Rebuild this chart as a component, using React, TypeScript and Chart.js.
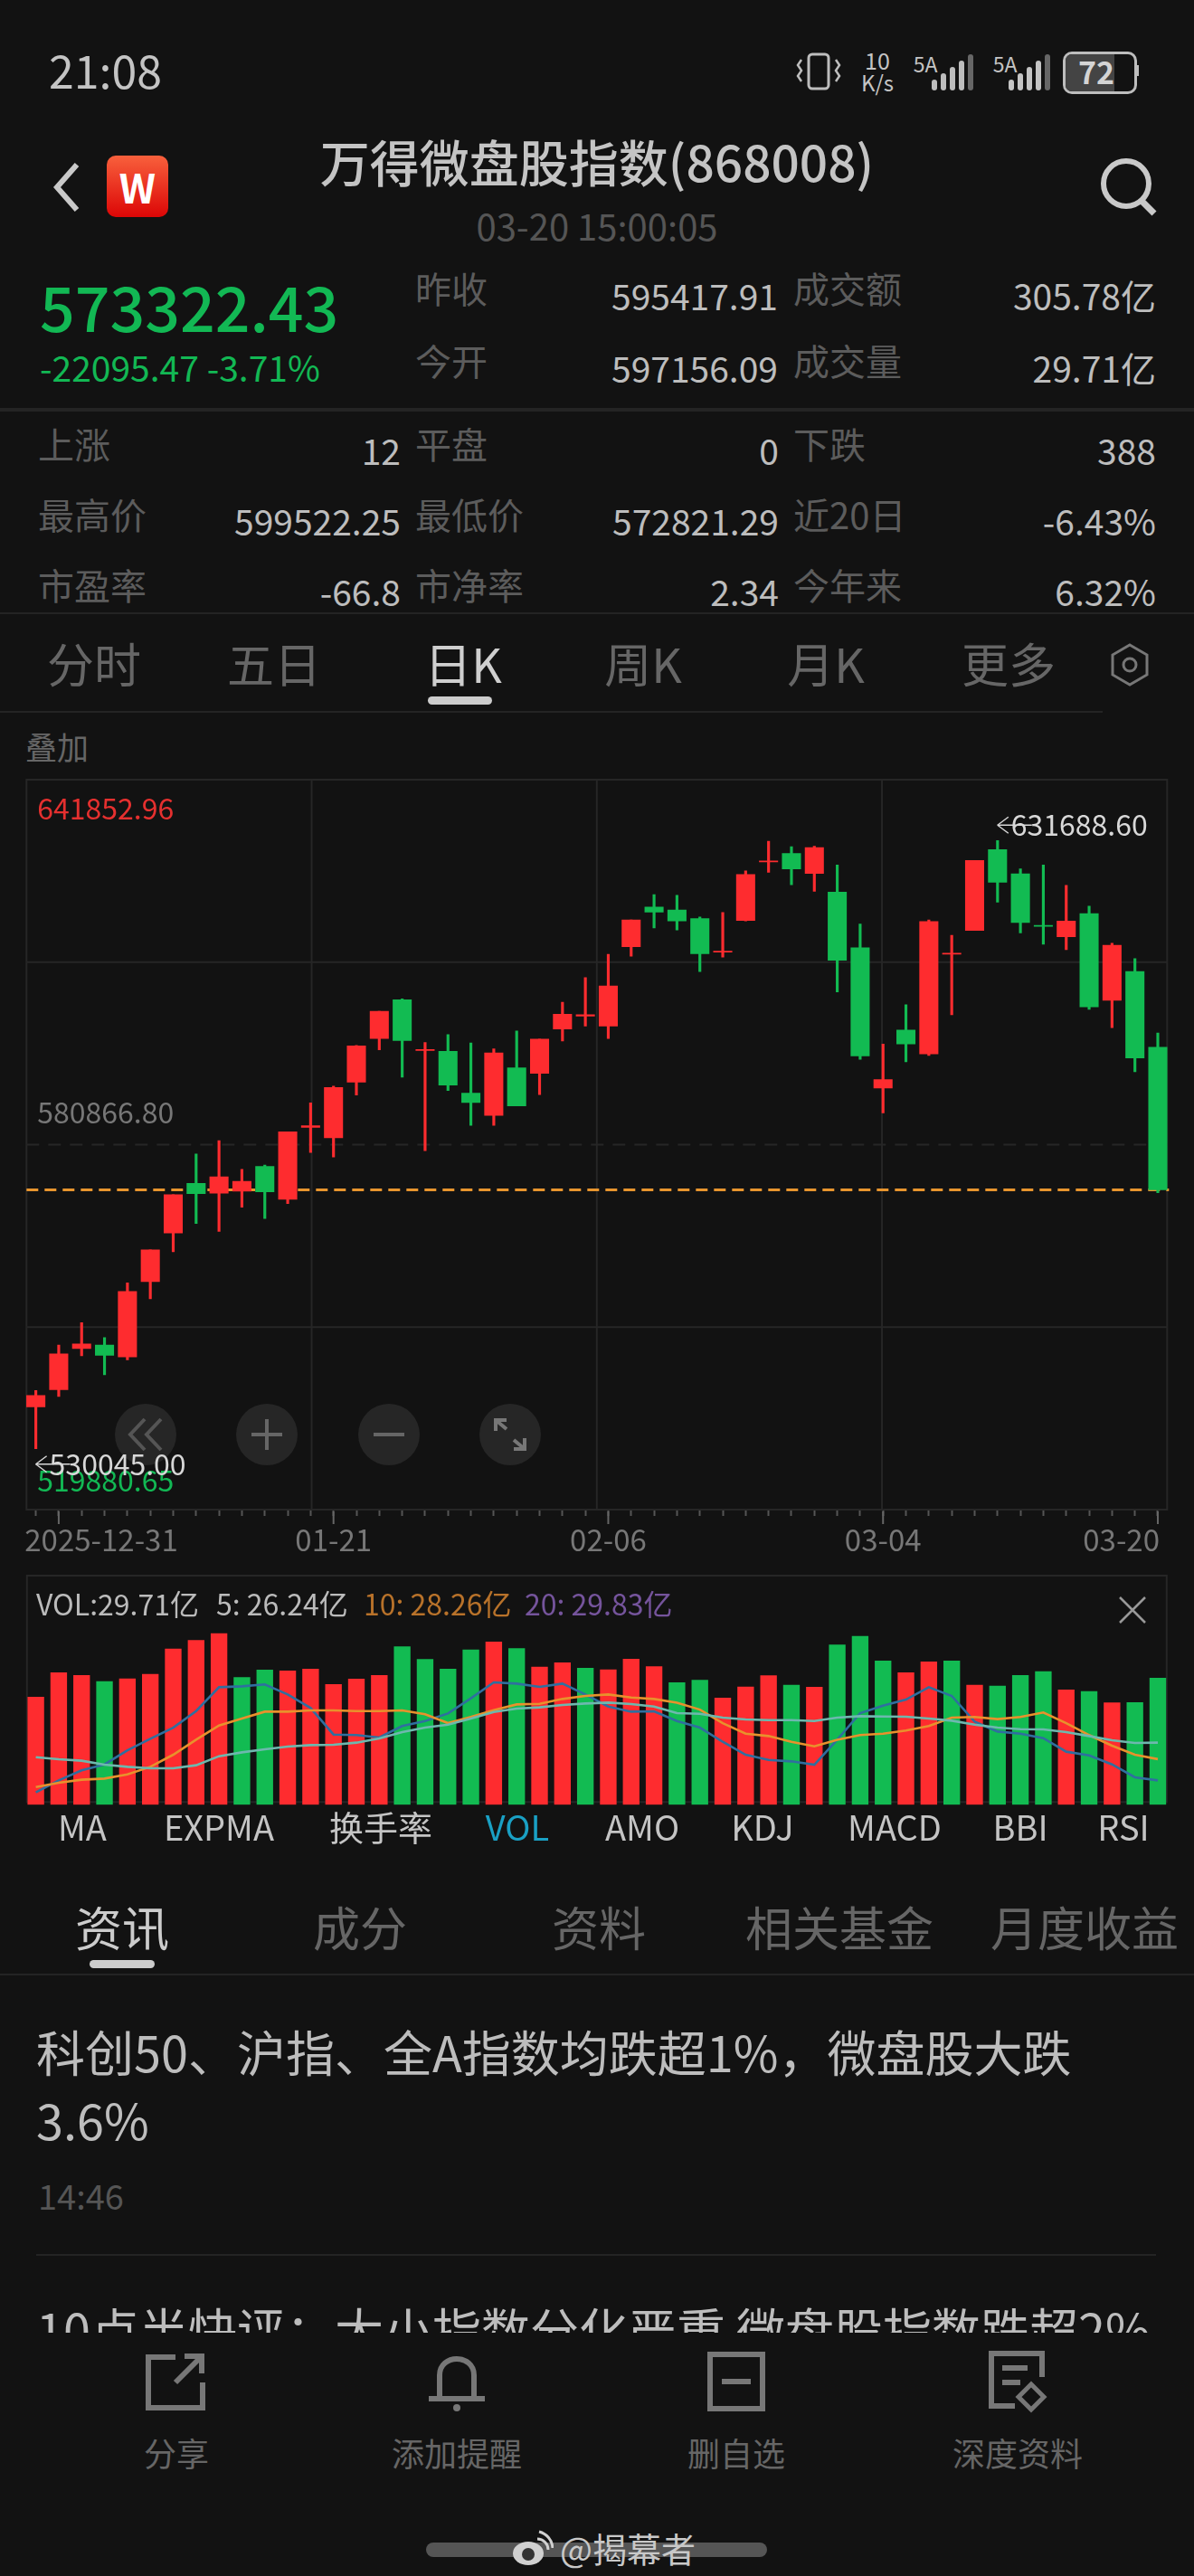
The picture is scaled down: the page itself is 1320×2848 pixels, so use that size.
import React, { useEffect, useRef } from "react";
import { Chart, registerables } from "chart.js";

Chart.register(...registerables);

const FONT = '"Noto Sans CJK SC", "Noto Sans", sans-serif';
const BG = "#121212";
const RED = "#fe2c2f";
const GREEN = "#12bb52";

// trading days, one per candle
const categories = [
  "2025-12-30", "2025-12-31", "01-06", "01-07", "01-08", "01-09", "01-12", "01-13", "01-14", "01-15",
  "01-16", "01-19", "01-20", "01-21", "01-22", "01-23", "01-26", "01-27", "01-28", "01-29",
  "01-30", "02-02", "02-03", "02-04", "02-05", "02-06", "02-09", "02-10", "02-11", "02-12",
  "02-13", "02-24", "02-25", "02-26", "02-27", "03-02", "03-03", "03-04", "03-05", "03-06",
  "03-09", "03-10", "03-11", "03-12", "03-13", "03-16", "03-17", "03-18", "03-19", "03-20",
];
const dateLabels = ["2025-12-31", "01-21", "02-06", "03-04", "03-20"];

const opens = [
  537035, 539935, 546812, 547392, 545404, 557998, 566119, 574405, 572747, 573079,
  577222, 571753, 583768, 582028, 591308, 598600, 605063, 596611, 596445, 589485,
  585756, 593711, 592799, 600174, 602328, 600671, 613929, 620558, 620060, 618652,
  613017, 618320, 628098, 629506, 626192, 623043, 613763, 590314, 600008, 596031,
  612686, 616663, 630169, 626109, 617492, 615586, 619480, 604980, 609786, 597156.09,
];
const closes = [
  538940, 545901, 547558, 545652, 556341, 563301, 572499, 572664, 575482, 574736,
  572996, 583022, 584016, 590397, 597357, 603157, 598268, 596777, 590811, 587911,
  596197, 587331, 598517, 602660, 602577, 607383, 618403, 619729, 618237, 612769,
  613183, 626026, 628264, 626938, 630501, 611692, 595700, 591722, 597688, 618155,
  612852, 628346, 624701, 617989, 617326, 618237, 603903, 614177, 595368, 573322.43,
];
const highs = [
  539769, 547392, 551121, 548635, 557750, 563301, 572499, 579293, 581531, 576725,
  577470, 583022, 587828, 590645, 597440, 603157, 605228, 597937, 599263, 597854,
  596860, 599843, 598517, 604648, 608791, 612686, 618403, 622629, 622546, 618900,
  619646, 626606, 631578, 630666, 630749, 627601, 617740, 597688, 604234, 618403,
  615835, 628346, 631688.6, 626938, 627601, 624203, 620723, 614509, 611940, 599522.25,
];
const lows = [
  530045, 538775, 545569, 542421, 544906, 555098, 562970, 567693, 566367, 570427,
  568521, 571007, 579542, 578796, 589154, 596694, 592137, 579873, 589899, 584099,
  584099, 587331, 589236, 598185, 600671, 598600, 612354, 617077, 616746, 609786,
  612189, 618237, 626358, 624286, 623209, 606389, 595120, 586171, 594705, 595782,
  602577, 616663, 621386, 616249, 614343, 613432, 603488, 600423, 593048, 572821.29,
];
const priceTicks = [641852.96, 611359.88, 580866.8, 550373.73, 519880.65];
const priceTickColors = ["#e5302f", "", "#777777", "", "#12b854"];
const lastPrice = 573322.43;

// volume in 亿
const volumes = [
  25.25, 30.98, 30.35, 28.93, 29.57, 30.63, 36.57, 38.55, 40.18, 29.85,
  31.62, 31.41, 31.83, 28.23, 29.5, 30.35, 37.07, 34.1, 31.83, 36.36,
  38.2, 36.64, 32.33, 33.32, 32.04, 31.69, 34.17, 32.4, 28.65, 29.22,
  25.04, 27.66, 30.28, 28.08, 27.59, 37.49, 39.54, 33.74, 30.98, 33.53,
  33.74, 28.08, 27.87, 30.35, 31.27, 26.95, 26.6, 23.91, 23.98, 29.71,
];
const ma5 = [
  25.09, 26.24, 27.19, 27.76, 29.11, 30.2, 31.26, 32.84, 35.11, 35.19,
  35.37, 34.42, 33.13, 30.6, 30.55, 30.32, 31.41, 31.89, 32.61, 34.05,
  35.57, 35.45, 35.14, 35.45, 34.42, 33.27, 32.78, 32.81, 31.89, 31.26,
  29.91, 28.68, 28.19, 28.05, 27.73, 30.11, 32.64, 33.36, 33.93, 35.11,
  34.28, 31.84, 30.89, 30.69, 30.26, 28.97, 28.62, 27.76, 26.53, 26.24,
];
const ma10 = [
  25.61, 26.01, 26.3, 26.41, 26.81, 27.53, 28.68, 30.11, 31.46, 32.12,
  32.78, 32.78, 32.9, 32.9, 32.84, 32.84, 32.9, 32.53, 31.69, 32.27,
  32.93, 33.47, 33.53, 33.99, 34.28, 34.42, 34.13, 33.99, 33.64, 32.98,
  31.69, 30.69, 30.46, 29.91, 29.48, 30.11, 30.55, 30.69, 30.98, 31.41,
  32.21, 32.27, 32.07, 32.27, 32.7, 31.69, 30.55, 29.54, 28.68, 28.26,
];
const ma20 = [
  28.45, 28.25, 28.11, 27.73, 27.53, 27.39, 27.39, 27.68, 28.54, 28.91,
  29.2, 29.45, 29.6, 29.63, 29.83, 30.23, 30.83, 31.26, 31.55, 32.12,
  32.75, 33.07, 33.19, 33.42, 33.56, 33.64, 33.5, 33.27, 32.64, 32.58,
  32.21, 32.04, 31.98, 31.98, 31.89, 32.21, 32.35, 32.32, 32.3, 32.12,
  31.92, 31.55, 31.26, 31.12, 31.09, 30.83, 30.46, 30.06, 29.8, 29.83,
];

const indicatorTabs = ["MA", "EXPMA", "换手率", "VOL", "AMO", "KDJ", "MACD", "BBI", "RSI"];
const indicatorX = [91, 242, 421, 572, 710, 843, 989, 1128, 1242];
const periodTabs = ["分时", "五日", "日K", "周K", "月K", "更多"];
const periodX = [104, 303, 512, 711, 913, 1115];
const newsTabs = ["资讯", "成分", "资料", "相关基金", "月度收益"];
const newsX = [135, 398, 662, 928, 1199];

const candleColors = opens.map((o, i) => (closes[i] >= o ? RED : GREEN));
const volumeColors = closes.map((c, i) => (i === 0 || c >= closes[i - 1] ? RED : GREEN));

function frameOf(chart: any, half: number) {
  const x = chart.scales.x;
  return {
    left: x.getPixelForValue(0) - half,
    right: x.getPixelForValue(categories.length - 1) + half,
    top: chart.chartArea.top,
    bottom: chart.chartArea.bottom,
  };
}

function line(ctx: CanvasRenderingContext2D, x1: number, y1: number, x2: number, y2: number) {
  ctx.beginPath();
  ctx.moveTo(x1, y1);
  ctx.lineTo(x2, y2);
  ctx.stroke();
}

// frame, quarter grid and the last-price line sit under the candles
const priceBackdrop = {
  id: "priceBackdrop",
  beforeDatasetsDraw(chart: any) {
    const { ctx } = chart;
    const y = chart.scales.y;
    const f = frameOf(chart, 10.3);
    ctx.save();
    ctx.strokeStyle = "#262626";
    ctx.lineWidth = 2;
    ctx.strokeRect(f.left, f.top, f.right - f.left, f.bottom - f.top);
    for (let i = 1; i < 4; i++) {
      const gx = f.left + ((f.right - f.left) * i) / 4;
      line(ctx, gx, f.top, gx, f.bottom);
    }
    priceTicks.forEach((t, i) => {
      if (i === 0 || i === 4) return;
      ctx.setLineDash(i === 2 ? [14, 10] : []);
      const py = y.getPixelForValue(t);
      line(ctx, f.left, py, f.right, py);
    });
    ctx.strokeStyle = "#e8952e";
    ctx.lineWidth = 3;
    ctx.setLineDash([13, 7]);
    const lp = y.getPixelForValue(lastPrice);
    line(ctx, f.left, lp, f.right + 2, lp);
    ctx.restore();
  },
};

function extreme(ctx: CanvasRenderingContext2D, x: number, y: number, value: number) {
  ctx.strokeStyle = "#d8d8d8";
  ctx.lineWidth = 1.5;
  line(ctx, x, y, x + 38, y);
  line(ctx, x, y, x + 12, y - 9);
  line(ctx, x, y, x + 12, y + 9);
  ctx.fillStyle = "#d8d8d8";
  ctx.textAlign = "left";
  ctx.fillText(value.toFixed(2), x + 15, y);
}

const priceLabels = {
  id: "priceLabels",
  afterDatasetsDraw(chart: any) {
    const { ctx } = chart;
    const xs = chart.scales.x;
    const y = chart.scales.y;
    const f = frameOf(chart, 10.3);
    ctx.save();
    ctx.font = `32px ${FONT}`;
    ctx.textBaseline = "middle";
    ctx.textAlign = "left";
    // axis values: top, middle and bottom only
    const offsets = [32, 0, -36, 0, -32];
    priceTicks.forEach((t, i) => {
      if (!priceTickColors[i]) return;
      ctx.fillStyle = priceTickColors[i];
      ctx.fillText(t.toFixed(2), f.left + 12, y.getPixelForValue(t) + offsets[i]);
    });
    const hi = highs.indexOf(Math.max(...highs));
    const lo = lows.indexOf(Math.min(...lows));
    extreme(ctx, xs.getPixelForValue(hi), y.getPixelForValue(highs[hi]) - 17, highs[hi]);
    extreme(ctx, xs.getPixelForValue(lo), y.getPixelForValue(lows[lo]) + 17, lows[lo]);
    // date ticks
    ctx.fillStyle = "#777777";
    ctx.strokeStyle = "#666666";
    ctx.lineWidth = 2;
    ctx.font = `33px ${FONT}`;
    dateLabels.forEach((d, i) => {
      const px = xs.getPixelForValue(categories.indexOf(d));
      line(ctx, px, f.bottom + 2, px, f.bottom + 16);
      if (i === 0) {
        ctx.textAlign = "left";
        ctx.fillText(d, f.left - 2, f.bottom + 33);
      } else if (i === dateLabels.length - 1) {
        ctx.textAlign = "right";
        ctx.fillText(d, px + 2, f.bottom + 33);
      } else {
        ctx.textAlign = "center";
        ctx.fillText(d, px, f.bottom + 33);
      }
    });
    ctx.restore();
  },
};

const volumeFrame = {
  id: "volumeFrame",
  beforeDatasetsDraw(chart: any) {
    const { ctx } = chart;
    const f = frameOf(chart, 9.8);
    ctx.save();
    ctx.strokeStyle = "#262626";
    ctx.lineWidth = 2;
    ctx.strokeRect(f.left, f.top, f.right - f.left, f.bottom - f.top - 3);
    ctx.restore();
  },
};

function PriceChart() {
  const ref = useRef<HTMLCanvasElement>(null);
  useEffect(() => {
    const chart = new Chart(ref.current!, {
      type: "bar",
      data: {
        labels: categories,
        datasets: [
          {
            label: "wick",
            data: lows.map((l, i) => [l, highs[i]]),
            backgroundColor: candleColors,
            barThickness: 2.5,
            grouped: false,
            order: 2,
          },
          {
            label: "body",
            data: opens.map((o, i) => [o, closes[i]]),
            backgroundColor: candleColors,
            barThickness: 20.4,
            minBarLength: 1,
            grouped: false,
            order: 1,
          },
        ] as any,
      },
      options: {
        responsive: false,
        animation: false,
        events: [],
        layout: { padding: { left: 26.95, right: 27.35, top: 12, bottom: 54 } },
        plugins: { legend: { display: false }, tooltip: { enabled: false } },
        scales: {
          x: {
            offset: true,
            ticks: { display: false, autoSkip: false },
            border: { display: false },
            grid: {
              offset: false,
              drawOnChartArea: false,
              drawTicks: true,
              tickLength: 7,
              tickWidth: 2,
              tickColor: "#555555",
            },
          },
          y: { display: false, min: priceTicks[4], max: priceTicks[0] },
        },
      },
      plugins: [priceBackdrop, priceLabels],
    });
    return () => chart.destroy();
  }, []);
  return (
    <canvas
      ref={ref}
      width={1320}
      height={880}
      style={{ position: "absolute", left: 0, top: 850, width: 1320, height: 880 }}
    />
  );
}

function VolumeChart() {
  const ref = useRef<HTMLCanvasElement>(null);
  useEffect(() => {
    const maLine = (label: string, data: number[], color: string) => ({
      type: "line",
      label,
      data,
      yAxisID: "ma",
      borderColor: color,
      borderWidth: 2.6,
      pointRadius: 0,
      tension: 0,
    });
    const chart = new Chart(ref.current!, {
      type: "bar",
      data: {
        labels: categories,
        datasets: [
          maLine("20", ma20, "#6db8ae"),
          maLine("10", ma10, "#e8912c"),
          maLine("5", ma5, "#2f6f9f"),
          {
            type: "bar",
            label: "VOL",
            data: volumes,
            yAxisID: "vol",
            backgroundColor: volumeColors,
            barThickness: 17.7,
            order: 10,
          },
        ] as any,
      },
      options: {
        responsive: false,
        animation: false,
        events: [],
        layout: { padding: { left: 26.95, right: 27.35, top: 7, bottom: 9.7 } },
        plugins: { legend: { display: false }, tooltip: { enabled: false } },
        scales: {
          x: { display: false, offset: true },
          vol: { display: false, position: "left", min: 0, max: 53.76 },
          ma: { display: false, position: "right", min: 23.92, max: 45.73 },
        },
      },
      plugins: [volumeFrame],
    });
    return () => chart.destroy();
  }, []);
  return (
    <canvas
      ref={ref}
      width={1320}
      height={270}
      style={{ position: "absolute", left: 0, top: 1735, width: 1320, height: 270 }}
    />
  );
}

type TProps = {
  x: number;
  y: number;
  size: number;
  color: string;
  align?: "left" | "right" | "center";
  weight?: number;
  children: React.ReactNode;
};

// y is the vertical middle of the text
function T({ x, y, size, color, align = "left", weight = 400, children }: TProps) {
  const shift = align === "left" ? "0" : align === "right" ? "-100%" : "-50%";
  return (
    <div
      style={{
        position: "absolute",
        left: x,
        top: y,
        fontSize: size,
        color,
        fontWeight: weight,
        lineHeight: 1,
        whiteSpace: "nowrap",
        transform: `translate(${shift}, -50%)`,
      }}
    >
      {children}
    </div>
  );
}

function Rule({ y, x = 0, w = 1320, h = 2, c = "#242424" }: { y: number; x?: number; w?: number; h?: number; c?: string }) {
  return <div style={{ position: "absolute", left: x, top: y, width: w, height: h, background: c }} />;
}

const LABEL = "#5c5c5c";
const VALUE = "#bdbdbd";

const statRows: [number, string, string, string, string, string, string][] = [
  [318, "昨收", "595417.91", "成交额", "305.78亿", "", ""],
  [398, "今开", "597156.09", "成交量", "29.71亿", "", ""],
];
const quoteRows: [number, string, string, string, string, string, string][] = [
  [490, "上涨", "12", "平盘", "0", "下跌", "388"],
  [568, "最高价", "599522.25", "最低价", "572821.29", "近20日", "-6.43%"],
  [646, "市盈率", "-66.8", "市净率", "2.34", "今年来", "6.32%"],
];

function Svg({ x, y, w, h, children }: { x: number; y: number; w: number; h: number; children: React.ReactNode }) {
  return (
    <svg
      width={w}
      height={h}
      viewBox={`0 0 ${w} ${h}`}
      style={{ position: "absolute", left: x, top: y }}
      fill="none"
    >
      {children}
    </svg>
  );
}

function Bars({ x, y, n = 5, c = "#bdbdbd" }: { x: number; y: number; n?: number; c?: string }) {
  return (
    <Svg x={x} y={y} w={60} h={42}>
      {[0, 1, 2, 3, 4].slice(0, n).map((i) => (
        <rect key={i} x={i * 10} y={30 - i * 7} width={6} height={12 + i * 7} rx={3} fill={i === 4 ? "#666" : c} />
      ))}
    </Svg>
  );
}

function StatusBar() {
  return (
    <>
      <T x={54} y={76} size={50} color="#c4c4c4">21:08</T>
      <Svg x={880} y={58} w={52} h={42}>
        <rect x={14} y={2} width={22} height={38} rx={4} stroke="#bdbdbd" strokeWidth={3} />
        <path d="M6 8 L2 14 L6 20 L2 26 L6 32 M44 8 L48 14 L44 20 L48 26 L44 32" stroke="#bdbdbd" strokeWidth={2.5} />
      </Svg>
      <T x={970} y={66} size={25} color="#c4c4c4" align="center">10</T>
      <T x={970} y={91} size={24} color="#c4c4c4" align="center">K/s</T>
      <T x={1023} y={70} size={23} color="#c4c4c4" align="center">5A</T>
      <Bars x={1030} y={58} />
      <T x={1111} y={70} size={23} color="#c4c4c4" align="center">5A</T>
      <Bars x={1115} y={58} c="#c4c4c4" />
      <div style={{ position: "absolute", left: 1175, top: 57, width: 76, height: 41, border: "3px solid #bdbdbd", borderRadius: 10, overflow: "hidden" }}>
        <div style={{ width: 54, height: 41, background: "#444" }} />
      </div>
      <T x={1212} y={79} size={34} color="#d4d4d4" align="center" weight={700}>72</T>
      <div style={{ position: "absolute", left: 1256, top: 72, width: 3, height: 12, background: "#bdbdbd" }} />
    </>
  );
}

function Header() {
  return (
    <>
      <Svg x={55} y={176} w={40} h={62}>
        <path d="M30 6 L8 31 L30 56" stroke="#c9c9c9" strokeWidth={6} />
      </Svg>
      <div
        style={{
          position: "absolute",
          left: 118,
          top: 172,
          width: 68,
          height: 68,
          borderRadius: 10,
          background: "linear-gradient(#f8603c, #dc0606)",
        }}
      />
      <T x={152} y={206} size={44} color="#ffffff" align="center" weight={700}>W</T>
      <T x={660} y={177} size={55} color="#c4c4c4" align="center" weight={500}>万得微盘股指数(868008)</T>
      <T x={660} y={249} size={40} color="#555555" align="center">03-20 15:00:05</T>
      <Svg x={1212} y={172} w={70} h={68}>
        <circle cx={33} cy={31} r={25} stroke="#c9c9c9" strokeWidth={6} />
        <path d="M50 50 L64 64" stroke="#c9c9c9" strokeWidth={7} />
      </Svg>
      <T x={44} y={338} size={68} color="#12b854" weight={500}>573322.43</T>
      <T x={44} y={405} size={39} color="#12b854">-22095.47 -3.71%</T>
      {statRows.map(([y, a, b, c, d]) => (
        <React.Fragment key={a}>
          <T x={459} y={y} size={40} color={LABEL}>{a}</T>
          <T x={860} y={y + 8} size={39} color={VALUE} align="right">{b}</T>
          <T x={877} y={y} size={40} color={LABEL}>{c}</T>
          <T x={1278} y={y + 8} size={39} color={VALUE} align="right">{d}</T>
        </React.Fragment>
      ))}
      <Rule y={451} h={4} />
      {quoteRows.map(([y, a, b, c, d, e, f]) => (
        <React.Fragment key={a}>
          <T x={42} y={y} size={40} color={LABEL}>{a}</T>
          <T x={443} y={y + 7} size={39} color={VALUE} align="right">{b}</T>
          <T x={459} y={y} size={40} color={LABEL}>{c}</T>
          <T x={861} y={y + 7} size={39} color={VALUE} align="right">{d}</T>
          <T x={877} y={y} size={40} color={LABEL}>{e}</T>
          <T x={1278} y={y + 7} size={39} color={VALUE} align="right">{f}</T>
        </React.Fragment>
      ))}
      <Rule y={677} />
      {periodTabs.map((t, i) => (
        <T key={t} x={periodX[i]} y={733} size={52} align="center" color={t === "日K" ? "#cfcfcf" : "#666666"}>{t}</T>
      ))}
      <div style={{ position: "absolute", left: 473, top: 770, width: 71, height: 9, borderRadius: 5, background: "#cccccc" }} />
      <Svg x={1226} y={710} w={46} h={50}>
        <path d="M23 3 L42 14 L42 36 L23 47 L4 36 L4 14 Z" stroke="#777" strokeWidth={3} />
        <circle cx={23} cy={25} r={7} stroke="#777" strokeWidth={3} />
      </Svg>
      <Rule y={786} w={1219} />
      <T x={28} y={824} size={35} color="#666666">叠加</T>
    </>
  );
}

function ZoomButtons() {
  const circle = (cx: number) => (
    <div style={{ position: "absolute", left: cx - 34, top: 1552, width: 68, height: 68, borderRadius: 34, background: "#262626" }} />
  );
  return (
    <>
      {circle(161)}
      {circle(295)}
      {circle(430)}
      {circle(564)}
      <Svg x={140} y={1566} w={42} h={40}>
        <path d="M20 3 L4 20 L20 37 M38 3 L22 20 L38 37" stroke="#555" strokeWidth={4} />
      </Svg>
      <Svg x={275} y={1566} w={40} h={40}>
        <path d="M20 3 L20 37 M3 20 L37 20" stroke="#666" strokeWidth={4} />
      </Svg>
      <Svg x={410} y={1566} w={40} h={40}>
        <path d="M3 20 L37 20" stroke="#666" strokeWidth={4} />
      </Svg>
      <Svg x={544} y={1566} w={40} h={40}>
        <path d="M4 16 L4 4 L16 4 M4 4 L16 14 M36 24 L36 36 L24 36 M36 36 L24 26" stroke="#777" strokeWidth={4} />
      </Svg>
    </>
  );
}

function Footer() {
  const grey = "#777777";
  return (
    <>
      <T x={40} y={1772} size={32} color="#bbbbbb">VOL:29.71亿</T>
      <T x={239} y={1772} size={32} color="#bbbbbb">5: 26.24亿</T>
      <T x={402} y={1772} size={32} color="#b8722a">10: 28.26亿</T>
      <T x={580} y={1772} size={32} color="#75549c">20: 29.83亿</T>
      <Svg x={1236} y={1764} w={32} h={32}>
        <path d="M2 2 L30 30 M30 2 L2 30" stroke="#999" strokeWidth={2.5} />
      </Svg>
      {indicatorTabs.map((t, i) => (
        <T key={t} x={indicatorX[i]} y={2019} size={38} align="center" color={t === "VOL" ? "#1aa0c4" : "#c4c4c4"}>{t}</T>
      ))}
      {newsTabs.map((t, i) => (
        <T key={t} x={newsX[i]} y={2130} size={52} align="center" color={i === 0 ? "#cccccc" : "#666666"}>{t}</T>
      ))}
      <div style={{ position: "absolute", left: 99, top: 2167, width: 72, height: 9, borderRadius: 5, background: "#cccccc" }} />
      <Rule y={2182} />
      <T x={40} y={2268} size={54} color="#bdbdbd">科创50、沪指、全A指数均跌超1%，微盘股大跌</T>
      <T x={40} y={2343} size={54} color="#bdbdbd">3.6%</T>
      <T x={42} y={2427} size={38} color="#555555">14:46</T>
      <Rule y={2492} x={40} w={1238} />
      <div style={{ position: "absolute", left: 0, top: 2540, width: 1320, height: 39, overflow: "hidden" }}>
        <T x={40} y={35} size={54} color="#bdbdbd">10点半快评：大小指数分化严重 微盘股指数跌超2%</T>
      </div>
      <Svg x={160} y={2600} w={70} h={66}>
        <path d="M34 6 L4 6 L4 62 L64 62 L64 34 M34 34 L62 6 M44 5 L63 5 L63 24" stroke={grey} strokeWidth={6} />
      </Svg>
      <Svg x={472} y={2598} w={66} h={70}>
        <path d="M14 52 L14 28 C14 4 52 4 52 28 L52 52 M2 54 L64 54" stroke={grey} strokeWidth={6} />
        <circle cx={33} cy={64} r={4} fill={grey} />
      </Svg>
      <Svg x={782} y={2600} w={66} h={66}>
        <rect x={3} y={3} width={58} height={60} stroke={grey} strokeWidth={6} />
        <path d="M16 33 L48 33" stroke={grey} strokeWidth={6} />
      </Svg>
      <Svg x={1092} y={2598} w={70} h={70}>
        <path d="M60 30 L60 4 L4 4 L4 62 L30 62 M16 20 L44 20 M16 36 L36 36" stroke={grey} strokeWidth={6} />
        <path d="M48 38 L62 52 L48 66 L34 52 Z" stroke={grey} strokeWidth={5} />
      </Svg>
      <T x={195} y={2711} size={36} color="#666666" align="center">分享</T>
      <T x={505} y={2711} size={36} color="#666666" align="center">添加提醒</T>
      <T x={814} y={2711} size={36} color="#666666" align="center">删自选</T>
      <T x={1125} y={2711} size={36} color="#666666" align="center">深度资料</T>
      <div style={{ position: "absolute", left: 471, top: 2811, width: 377, height: 16, borderRadius: 8, background: "#555555" }} />
      <Svg x={564} y={2795} w={48} h={44}>
        <ellipse cx={20} cy={28} rx={17} ry={13} fill="#d0d0d0" />
        <circle cx={20} cy={29} r={7} fill="#333" />
        <path d="M30 12 A12 12 0 0 1 42 24 M32 4 A20 20 0 0 1 47 22" stroke="#d0d0d0" strokeWidth={3} />
      </Svg>
      <T x={619} y={2817} size={38} color="#c8c8c8">@揭幕者</T>
    </>
  );
}

export default function App() {
  useEffect(() => {
    document.body.style.margin = "0";
    document.body.style.background = BG;
  }, []);
  return (
    <div style={{ position: "relative", width: 1320, height: 2848, background: BG, overflow: "hidden", fontFamily: FONT }}>
      <StatusBar />
      <Header />
      <ZoomButtons />
      <PriceChart />
      <VolumeChart />
      <Footer />
    </div>
  );
}
